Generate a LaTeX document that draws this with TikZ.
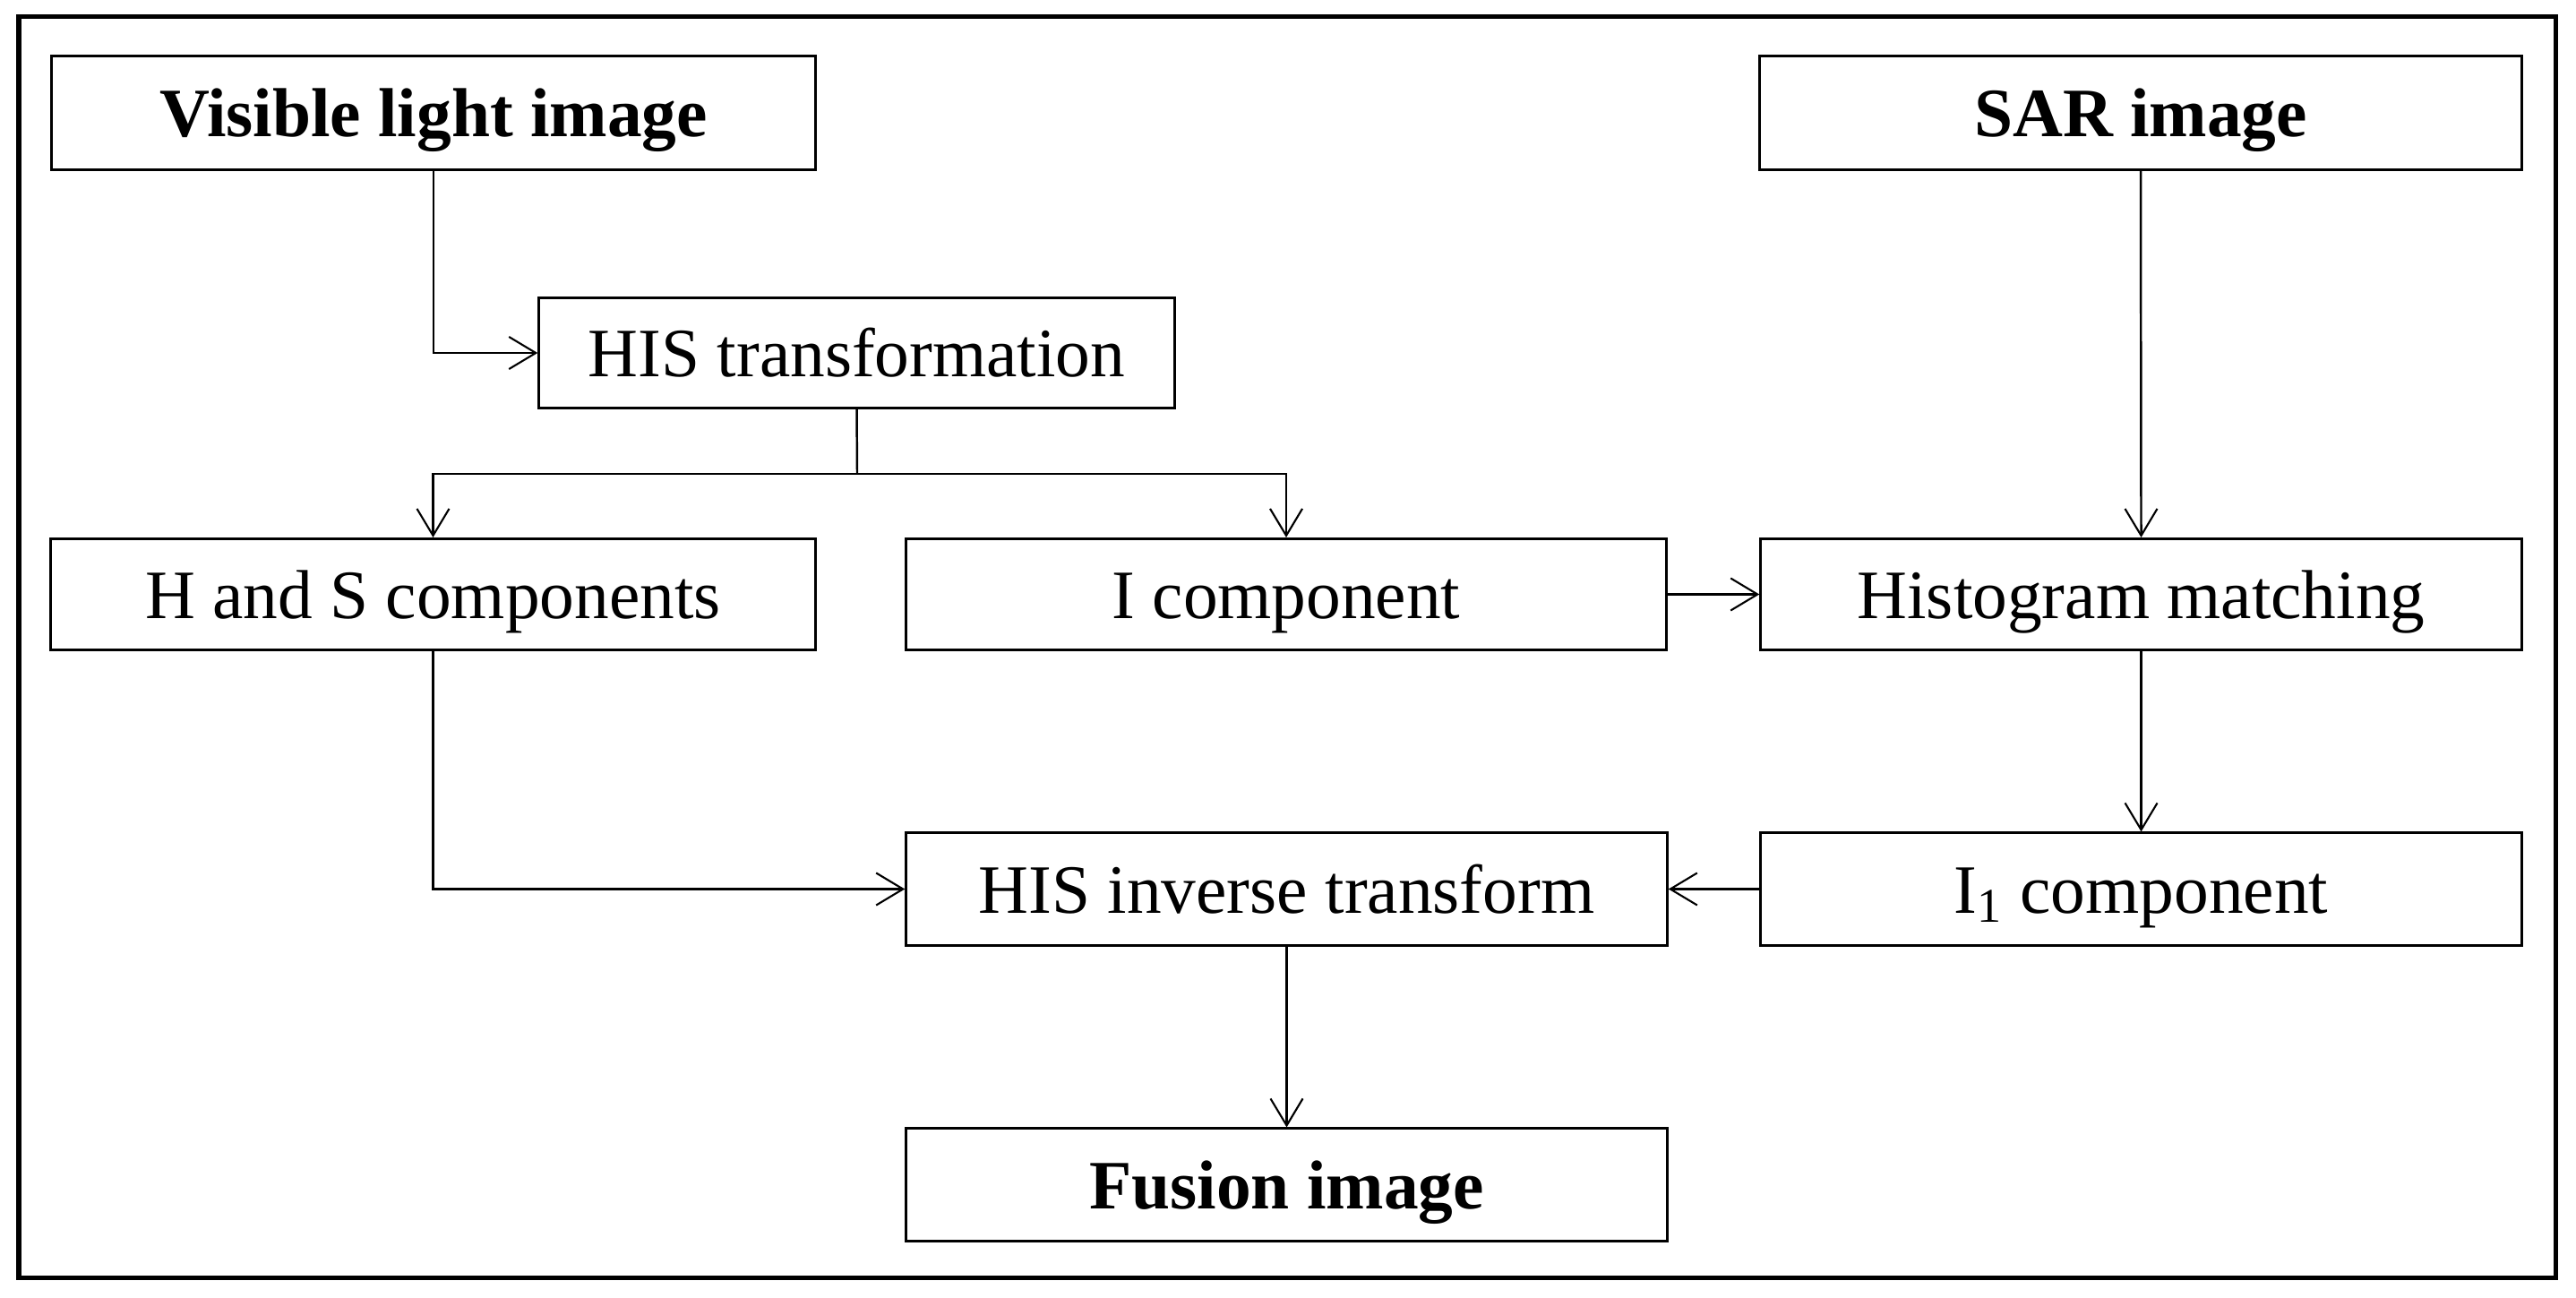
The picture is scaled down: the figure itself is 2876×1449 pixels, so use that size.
\documentclass[tikz,border=0pt]{standalone}
\usepackage{fontspec}
\setmainfont{Liberation Serif}
\usetikzlibrary{arrows.meta}
\begin{document}
\begin{tikzpicture}[x=0.01cm,y=-0.01cm,
  box/.style={draw, line width=0.3mm, inner sep=0pt, minimum height=12.4mm,
    text height=5.9mm, text depth=0.6mm,
    font=\fontsize{22}{26}\selectfont},
  topbox/.style={box, minimum height=12.7mm, font=\fontsize{22}{26}\selectfont\bfseries},
  conn/.style={line width=0.7pt, -{Straight Barb[length=3mm,width=3.6mm,line width=0.6pt]}},
  plain/.style={line width=0.7pt}]
\useasboundingbox (0,0) rectangle (2876,1449);
\draw[line width=0.5mm] (21,19) rectangle (2853,1426);
\node[topbox, minimum width=85.2mm] (vis) at (484,126) {Visible light image};
\node[topbox, minimum width=85.0mm] (sar) at (2390,126) {SAR image};
\node[box, minimum width=70.9mm, minimum height=12.2mm] (his) at (956.5,394) {HIS transformation};
\node[box, minimum width=85.3mm] (hs) at (483.5,663.5) {H and S components};
\node[box, minimum width=84.8mm] (ic) at (1436,663.5) {I component};
\node[box, minimum width=84.9mm] (hm) at (2390.5,663.5) {Histogram matching};
\node[box, minimum width=84.9mm, minimum height=12.5mm] (hinv) at (1436.5,992.5) {HIS inverse transform};
\node[box, minimum width=84.9mm, minimum height=12.5mm] (ione) at (2390.5,992.5) {I\textsubscript{1} component};
\node[topbox, minimum width=84.9mm, minimum height=12.5mm] (fus) at (1436.5,1322.5) {Fusion image};
\coordinate (br) at (957,529);
\draw[conn] (vis.south) |- (his.west);
\draw[plain] (his.south) -- (br);
\draw[conn] (br) -| (hs.north);
\draw[conn] (br) -| (ic.north);
\draw[conn] (ic.east) -- (hm.west);
\draw[conn] (sar.south) -- (hm.north);
\draw[conn] (hm.south) -- (ione.north);
\draw[conn] (hs.south) |- (hinv.west);
\draw[conn] (ione.west) -- (hinv.east);
\draw[conn] (hinv.south) -- (fus.north);
\end{tikzpicture}
\end{document}
